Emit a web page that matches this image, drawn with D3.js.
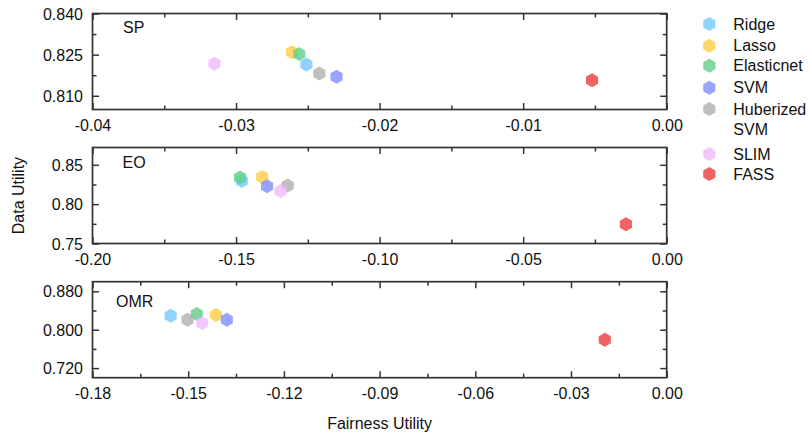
<!DOCTYPE html>
<html><head><meta charset="utf-8">
<script src="https://cdn.jsdelivr.net/npm/d3@7"></script>
<style>body{margin:0;background:#fff}svg{display:block}text{font-family:"Liberation Sans",Arial,sans-serif}</style>
</head><body>
<script>
const methods = ["Ridge","Lasso","Elasticnet","SVM","Huberized SVM","SLIM","FASS"];
const colors  = ["#73c9ff","#ffcc45","#60ce88","#7e8dff","#afafaf","#efbaff","#ec3c3c"];

// SP panel
const spX = [-0.0251,-0.0261,-0.0256,-0.0230,-0.0242,-0.0315,-0.0052];
const spY = [0.8214,0.8259,0.8252,0.8169,0.8181,0.8217,0.8157];
// EO panel
const eoX = [-0.1480,-0.1409,-0.1486,-0.1392,-0.1320,-0.1345,-0.0142];
const eoY = [0.8294,0.8345,0.8338,0.8227,0.8236,0.8168,0.7745];
// OMR panel
const omrX = [-0.1555,-0.1413,-0.1473,-0.1379,-0.1502,-0.1456,-0.0194];
const omrY = [0.8290,0.8304,0.8325,0.8207,0.8207,0.8139,0.7793];

const spXTicks = [-0.04,-0.03,-0.02,-0.01,0.00];
const spYTicks = [0.810,0.825,0.840];
const eoXTicks = [-0.20,-0.15,-0.10,-0.05,0.00];
const eoYTicks = [0.75,0.80,0.85];
const omrXTicks = [-0.18,-0.15,-0.12,-0.09,-0.06,-0.03,0.00];
const omrYTicks = [0.720,0.800,0.880];

const panels = [
  {name:"SP", xs:spX, ys:spY, xd:[-0.04,0], yd:[0.805,0.840], xt:spXTicks, yt:spYTicks, xdec:2, ydec:3, top:13.5, lx:123, ly:27.5},
  {name:"EO", xs:eoX, ys:eoY, xd:[-0.20,0], yd:[0.75,0.872], xt:eoXTicks, yt:eoYTicks, xdec:2, ydec:2, top:147.5, lx:122.5, ly:162},
  {name:"OMR", xs:omrX, ys:omrY, xd:[-0.18,0], yd:[0.70,0.90], xt:omrXTicks, yt:omrYTicks, xdec:2, ydec:3, top:281.7, lx:116, ly:301.5}
];

const W = 809, H = 436;
const left = 92.5, right = 666.7, ph = 96;
const axisColor = "#333";

const svg = d3.select("body").append("svg").attr("width",W).attr("height",H);

function hexPath(r){
  const pts = d3.range(6).map(i => {
    const a = Math.PI/3*i - Math.PI/2;
    return [r*Math.cos(a), r*Math.sin(a)];
  });
  return "M" + pts.map(p => p.join(",")).join("L") + "Z";
}
const hex = hexPath(7);

function minorTicks(major){
  const out = [];
  for (let i=0;i<major.length-1;i++) out.push((major[i]+major[i+1])/2);
  return out;
}

panels.forEach(p => {
  const x = d3.scaleLinear().domain(p.xd).range([left,right]);
  const y = d3.scaleLinear().domain(p.yd).range([p.top+ph,p.top]);
  const g = svg.append("g");
  const xstep = p.xt[1]-p.xt[0], ystep = p.yt[1]-p.yt[0];
  const xMinor = minorTicks(p.xt);
  let yMaj = p.yt.slice();
  const yMinor = minorTicks(yMaj);
  // extra minor ticks outside labeled range but inside domain
  [p.yt[0]-ystep/2, p.yt[p.yt.length-1]+ystep/2].forEach(v=>{ if(v>p.yd[0]+1e-9 && v<p.yd[1]-1e-9) yMinor.push(v); });

  function styleAxis(a){
    a.select(".domain").remove();
    a.selectAll("line").attr("stroke",axisColor).attr("stroke-width",1.5);
  }
  // bottom major with labels
  const bx = g.append("g").attr("transform",`translate(0,${p.top+ph})`)
    .call(d3.axisBottom(x).tickValues(p.xt).tickSize(-6.5).tickFormat(d=>d.toFixed(p.xdec)));
  styleAxis(bx);
  bx.selectAll("text").attr("y",16).attr("dy","0.35em").attr("font-size",16).attr("fill","#111")
    .style("font-family",'"Liberation Sans",Arial,sans-serif');
  styleAxis(g.append("g").attr("transform",`translate(0,${p.top+ph})`)
    .call(d3.axisBottom(x).tickValues(xMinor).tickSize(-4).tickFormat("")));
  // top
  styleAxis(g.append("g").attr("transform",`translate(0,${p.top})`)
    .call(d3.axisTop(x).tickValues(p.xt).tickSize(-6.5).tickFormat("")));
  styleAxis(g.append("g").attr("transform",`translate(0,${p.top})`)
    .call(d3.axisTop(x).tickValues(xMinor).tickSize(-4).tickFormat("")));
  // left
  const ly = g.append("g").attr("transform",`translate(${left},0)`)
    .call(d3.axisLeft(y).tickValues(p.yt).tickSize(-6.5).tickFormat(d=>d.toFixed(p.ydec)));
  styleAxis(ly);
  ly.selectAll("text").attr("x",-9.5).attr("dy","0.35em").attr("font-size",16).attr("fill","#111")
    .style("font-family",'"Liberation Sans",Arial,sans-serif');
  styleAxis(g.append("g").attr("transform",`translate(${left},0)`)
    .call(d3.axisLeft(y).tickValues(yMinor).tickSize(-4).tickFormat("")));
  // right
  styleAxis(g.append("g").attr("transform",`translate(${right},0)`)
    .call(d3.axisRight(y).tickValues(p.yt).tickSize(-6.5).tickFormat("")));
  styleAxis(g.append("g").attr("transform",`translate(${right},0)`)
    .call(d3.axisRight(y).tickValues(yMinor).tickSize(-4).tickFormat("")));
  // frame
  g.append("rect").attr("x",left).attr("y",p.top).attr("width",right-left).attr("height",ph)
    .attr("fill","none").attr("stroke",axisColor).attr("stroke-width",1.7);
  // panel label
  g.append("text").attr("x",p.lx).attr("y",p.ly).attr("dy","0.35em").attr("font-size",16)
    .attr("fill","#111").text(p.name);
  // points
  g.selectAll("path.pt").data(methods.map((m,i)=>({m,i,x:p.xs[i],y:p.ys[i]})))
    .join("path").attr("class","pt").attr("d",hex)
    .attr("transform",d=>`translate(${x(d.x)},${y(d.y)})`)
    .attr("fill",d=>colors[d.i]).attr("fill-opacity",0.8);
});

// axis titles
svg.append("text").attr("x",(left+right)/2).attr("y",423.5).attr("dy","0.35em")
  .attr("text-anchor","middle").attr("font-size",16).attr("fill","#111").text("Fairness Utility");
svg.append("text").attr("transform",`translate(18.5,${(13.5+377.7)/2}) rotate(-90)`).attr("dy","0.35em")
  .attr("text-anchor","middle").attr("font-size",16).attr("fill","#111").text("Data Utility");

// legend
const legRows = [24,45.7,65.7,87.7,109,154,174];
const lg = svg.append("g");
methods.forEach((m,i)=>{
  lg.append("path").attr("d",hex).attr("transform",`translate(709.3,${legRows[i]})`)
    .attr("fill",colors[i]).attr("fill-opacity",0.8);
  const parts = m === "Huberized SVM" ? ["Huberized","SVM"] : [m];
  parts.forEach((t,j)=>{
    lg.append("text").attr("x",733.3).attr("y",legRows[i]+j*20).attr("dy","0.35em")
      .attr("font-size",16).attr("fill","#111").text(t);
  });
});
</script>
</body></html>
